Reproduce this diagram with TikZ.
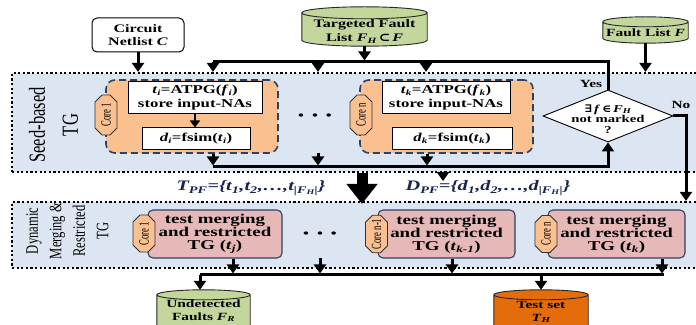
\documentclass[tikz,border=0pt]{standalone}
\usepackage{fontspec}
\setmainfont{Liberation Serif}[FakeStretch=1.4]
\newfontfamily\rotfont{Liberation Serif}[FakeStretch=0.72]
\newfontfamily\tagfont{Liberation Serif}[FakeStretch=0.62]
\newfontfamily\symfont{DejaVu Serif}[FakeStretch=1.2]
\usetikzlibrary{arrows.meta,shapes.geometric,shapes.misc,calc}
\definecolor{bluebg}{HTML}{DCE6F2}
\definecolor{coreorange}{HTML}{FAC090}
\definecolor{pinkbg}{HTML}{E6B9B8}
\definecolor{greenbg}{HTML}{C3D69B}
\definecolor{testorange}{HTML}{E46C0A}
\definecolor{navy}{RGB}{45,65,100}
\definecolor{textnavy}{RGB}{25,35,80}
\newcommand\lsub[1]{\textsubscript{\itshape #1}}
\newcommand\cylfill[3]{%
  \filldraw[fill=#2, draw=black!85, line width=0.9pt]
    let \p1=(#1.north west), \p2=(#1.south east), \n1={(\x2-\x1)/2} in
    (\x1,\y1-#3) -- (\x1,\y2+#3)
    arc[start angle=180, end angle=360, x radius=\n1, y radius=#3]
    -- (\x2,\y1-#3)
    arc[start angle=0, end angle=180, x radius=\n1, y radius=#3]
    -- cycle
    (\x1,\y1-#3) arc[start angle=180, end angle=360, x radius=\n1, y radius=#3];
}
\begin{document}
\begin{tikzpicture}[x=1pt, y=1pt,
  tgbox/.style={draw=black, fill=bluebg, line width=2.2pt, dash pattern=on 2.2pt off 2.4pt, inner sep=0pt},
  corebox/.style={draw=navy, fill=coreorange, line width=1.6pt, dash pattern=on 7pt off 4pt, rounded corners=9pt, inner sep=0pt},
  whitebox/.style={draw=black, fill=white, line width=1pt, inner sep=0pt, align=center, font=\fontsize{12}{14}\selectfont\bfseries},
  pinkbox/.style={draw=navy, fill=pinkbg, line width=1.1pt, rounded corners=5pt, inner sep=0pt, align=center, font=\fontsize{13.5}{13}\selectfont\bfseries},
  coretag/.style={chamfered rectangle, chamfered rectangle sep=3.5pt, draw=black!80, fill=coreorange, line width=0.8pt, minimum width=40pt, minimum height=22pt, inner sep=0pt, rotate=90, font=\tagfont\fontsize{14}{14}\selectfont},
  cylbox/.style={inner sep=0pt, draw=none},
  cyltext/.style={align=center, inner sep=0pt, font=\fontsize{11.5}{13.5}\selectfont\bfseries},
  dotsnode/.style={inner sep=0pt, font=\fontsize{12}{12}\selectfont\bfseries},
  lbl/.style={inner sep=0pt, font=\fontsize{11}{11}\selectfont\bfseries},
  setlbl/.style={inner sep=0pt, text=textnavy, font=\fontsize{14.5}{15}\selectfont\bfseries\itshape},
  conn/.style={line width=3pt},
  arr/.style={conn, -{Triangle[width=12pt,length=9pt]}},
  smallarr/.style={line width=2.5pt, -{Triangle[width=10pt,length=7pt]}},
  bigarr/.style={line width=11pt, -{Triangle[width=30pt,length=20pt]}}
]
\useasboundingbox (0,0) rectangle (696,324);
\clip (0,0) rectangle (696,324);

% stage boxes
\node[tgbox, minimum width=693pt, minimum height=99pt] (seed) at (358.5,201.5) {};
\node[tgbox, minimum width=693pt, minimum height=66pt] (dmr) at (358.5,89) {};

\node[rotate=90, align=center, inner sep=0pt, font=\rotfont\fontsize{23}{33}\selectfont] (seedlbl) at (53.5,199) {Seed-based\\TG};
\node[rotate=90, align=center, inner sep=0pt, font=\rotfont\fontsize{17.5}{23.5}\selectfont] (dmrlbl) at (67.5,93) {Dynamic\\Merging \&\\Restricted\\TG};

% inputs
\node[draw=black, fill=white, line width=1pt, rounded corners=5pt, minimum width=92pt, minimum height=34pt, inner sep=0pt, align=center, font=\fontsize{11.5}{13}\selectfont\bfseries] (cnl) at (138,289) {Circuit\\Netlist \textit{C}};

\node[cylbox, minimum width=125pt, minimum height=39pt] (tfl) at (364.5,297.5) {};
\cylfill{tfl}{greenbg}{6pt}
\node[cyltext] (tfltxt) at (364.5,292.5) {Targeted Fault\\List \textit{F}\lsub{H}\,{\symfont\bfseries ⊂}\,\textit{F}};

\node[cylbox, minimum width=85pt, minimum height=26pt] (fl) at (645.5,294) {};
\cylfill{fl}{greenbg}{5pt}
\node[cyltext, font=\fontsize{11}{12}\selectfont\bfseries] (fltxt) at (645.5,291.5) {Fault List \textit{F}};

% seed-based cores
\node[corebox, minimum width=172pt, minimum height=73pt] (c1) at (192,207.5) {};
\node[whitebox, minimum width=134pt, minimum height=32pt] (c1a) at (195,226) {\textit{t}\lsub{i}=ATPG(\textit{f}\lsub{i})\\store input-NAs};
\node[whitebox, minimum width=108pt, minimum height=22pt] (c1b) at (196,185) {\textit{d}\lsub{i}=fsim(\textit{t}\lsub{i})};
\node[coretag] (c1tag) at (106,209) {Core 1};

\node[dotsnode] (dots1) at (315,207) {\textbullet\hspace{8pt}\textbullet\hspace{8pt}\textbullet};

\node[corebox, minimum width=173pt, minimum height=73pt] (cn) at (446.5,207.5) {};
\node[whitebox, minimum width=128pt, minimum height=32pt] (cna) at (446,226) {\textit{t}\lsub{k}=ATPG(\textit{f}\lsub{k})\\store input-NAs};
\node[whitebox, minimum width=120pt, minimum height=22pt] (cnb) at (452,185) {\textit{d}\lsub{k}=fsim(\textit{t}\lsub{k})};
\node[coretag] (cntag) at (361,209) {Core n};

% decision
\node[diamond, draw=black, fill=white, line width=0.9pt, minimum width=130pt, minimum height=52pt, inner sep=0pt] (dia) at (608,208) {};
\node[align=center, inner sep=0pt, font=\fontsize{10.5}{10.5}\selectfont\bfseries] (diatxt) at (608,205) {{\symfont\bfseries ∃}\,\textit{f}\,{\symfont\bfseries ∈}\,\textit{F}\lsub{H}\\not marked\\?};
\node[lbl] (yes) at (591,240) {Yes};
\node[lbl] (no) at (681,219) {No};

% sets
\node[setlbl] (tpf) at (251,136) {T\lsub{PF}=\{t\lsub{1},t\lsub{2},\ldots,t\lsub{|F\textsubscript{H}|}\}};
\node[setlbl] (dpf) at (488,136) {D\lsub{PF}=\{d\lsub{1},d\lsub{2},\ldots,d\lsub{|F\textsubscript{H}|}\}};

% dynamic merging cores
\node[pinkbox, minimum width=134pt, minimum height=48pt] (p1) at (215,90) {test merging\\and restricted\\TG (\textit{t}\lsub{j})};
\node[coretag, minimum width=37pt] (p1tag) at (144,90.5) {Core 1};
\node[dotsnode] (dots2) at (320,89) {\textbullet\hspace{8pt}\textbullet\hspace{8pt}\textbullet};
\node[pinkbox, minimum width=137pt, minimum height=48pt] (pn1) at (446.5,90) {test merging\\and restricted\\TG (\textit{t}\lsub{k-1})};
\node[coretag, minimum width=37pt] (pn1tag) at (376.5,90) {Core n-1};
\node[pinkbox, minimum width=137pt, minimum height=48pt] (pn) at (616.5,90) {test merging\\and restricted\\TG (\textit{t}\lsub{k})};
\node[coretag, minimum width=37pt] (pntag) at (546,90) {Core n};

% outputs
\node[cylbox, minimum width=93pt, minimum height=60pt] (und) at (203.5,4) {};
\cylfill{und}{greenbg}{5pt}
\node[cyltext, font=\fontsize{11}{12.5}\selectfont\bfseries] (undtxt) at (203.5,13) {Undetected\\Faults \textit{F}\lsub{R}};
\node[cylbox, minimum width=94pt, minimum height=60pt] (test) at (541,4) {};
\cylfill{test}{testorange}{5pt}
\node[cyltext, font=\fontsize{11}{12.5}\selectfont\bfseries] (testtxt) at (541,12) {Test set\\\textit{T}\lsub{H}};

% connector coordinates
\coordinate (tbL) at (213,262);
\coordinate (tbM) at (318,262);
\coordinate (tbN) at (426,262);
\coordinate (tbR) at (608,262);
\coordinate (sbL) at (213,157);
\coordinate (sbM) at (318,157);
\coordinate (sbN) at (427,157);
\coordinate (sbR) at (608,157);
\coordinate (dm1) at (318,171);
\coordinate (nocol) at (686,208);
\coordinate (bigx) at (362,0);
\coordinate (smx) at (443,0);
\coordinate (bbL) at (200,49);
\coordinate (bbR) at (664,49);
\coordinate (bb1) at (233,49);
\coordinate (bb2) at (320,49);
\coordinate (bb3) at (452,49);
\coordinate (bb4) at (662,49);
\coordinate (bbT) at (541,49);
\coordinate (dm2) at (320,66);

% top connectors
\draw[arr] (cnl.south) -- (cnl.south |- seed.north);
\draw[arr] (tfl.south) -- ([yshift=1.5pt]tfl.south |- tbL);
\draw[conn] (tbL) -- (tbR) -- (dia.north);
\draw[arr] (tbL) -- (tbL |- seed.north);
\draw[arr] (tbM) -- (tbM |- seed.north);
\draw[arr] (tbN) -- (tbN |- seed.north);
\draw[arr] (fl.south) -- (fl.south |- seed.north);
\draw[smallarr] (c1a.south) -- (c1a.south |- c1b.north);

% seed bottom connectors
\draw[arr] (sbL) -- (sbR) -- (dia.south);
\draw[arr] (sbL |- c1.south) -- ([yshift=1.5pt]sbL);
\draw[arr] (dm1) -- ([yshift=1.5pt]sbM);
\draw[arr] (sbN |- cn.south) -- ([yshift=1.5pt]sbN);
\draw[arr] (dia.east) -- (nocol) -- (nocol |- dmr.north);

\draw[bigarr] (bigx |- seed.south) -- ([yshift=-3pt]bigx |- dmr.north);
\draw[arr] (smx |- seed.south) -- ([yshift=-8pt]smx |- seed.south);

% bottom connectors
\draw[conn] (bbL) -- (bbR);
\draw[arr] (bb1 |- p1.south) -- ([yshift=1.5pt]bb1);
\draw[arr] (dm2) -- ([yshift=1.5pt]bb2);
\draw[arr] (bb3 |- pn1.south) -- ([yshift=1.5pt]bb3);
\draw[arr] (bb4 |- pn.south) -- ([yshift=1.5pt]bb4);
\draw[arr] (bbL) -- (bbL |- und.north);
\draw[arr] (bbT) -- (test.north);
\end{tikzpicture}
\end{document}
